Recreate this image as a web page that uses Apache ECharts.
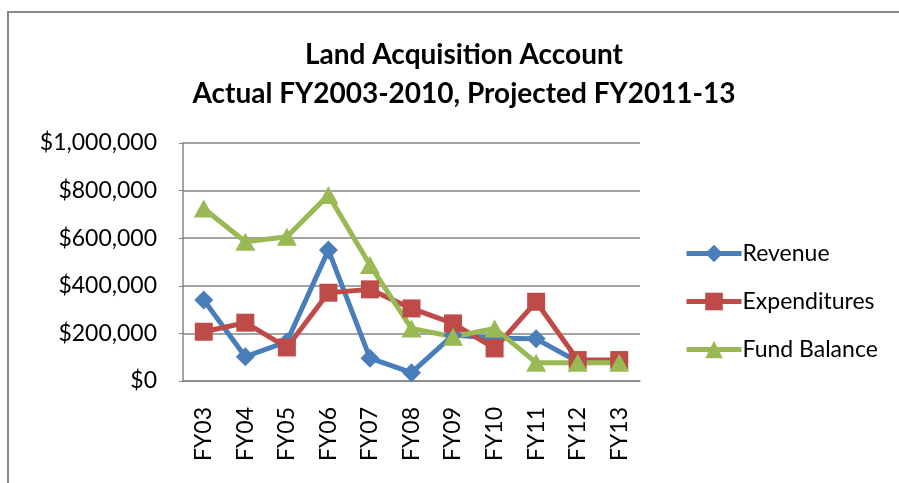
<!DOCTYPE html>
<html lang="en">
<head>
<meta charset="UTF-8">
<title>Land Acquisition Account</title>
<script src="https://cdn.jsdelivr.net/npm/echarts@6/dist/echarts.min.js"></script>
<style>
  html, body { margin: 0; padding: 0; background: #fff; }
</style>
</head>
<body>
    <div id="main" style="width: 899px;height:483px;"></div>
    <script type="text/javascript">
        // categories and values
        var years = ['FY03', 'FY04', 'FY05', 'FY06', 'FY07', 'FY08', 'FY09', 'FY10', 'FY11', 'FY12', 'FY13'];
        var revenue = [340000, 102000, 165000, 550000, 96000, 35000, 193000, 180000, 177000, 81000, 80000];
        var expenditures = [207000, 245000, 141000, 371000, 385000, 305000, 242000, 137000, 333000, 88000, 88000];
        var fundBalance = [725000, 585000, 606000, 781000, 487000, 221000, 186000, 221000, 77000, 77000, 77000];
        var yTicks = [0, 200000, 400000, 600000, 800000, 1000000];

        var font = 'Lato, "Open Sans", sans-serif';

        function money(v) {
            return '$' + v.toLocaleString('en-US');
        }

        function lineSeries(name, data, color, symbol, size) {
            return {
                name: name,
                type: 'line',
                data: data,
                symbol: symbol,
                symbolSize: size,
                showAllSymbol: true,
                lineStyle: { color: color, width: 5 },
                itemStyle: { color: color },
                emphasis: { disabled: true },
                animation: false
            };
        }

        var myChart = echarts.init(document.getElementById('main'));

        var option = {
            animation: false,
            backgroundColor: '#fff',
            title: {
                text: 'Land Acquisition Account\nActual FY2003-2010, Projected FY2011-13',
                left: 459,
                textAlign: 'center',
                top: 30,
                textStyle: {
                    fontFamily: font,
                    fontWeight: 'bold',
                    fontSize: 28,
                    lineHeight: 39,
                    color: '#000'
                }
            },
            legend: {
                orient: 'vertical',
                left: 679,
                top: 237,
                itemWidth: 55,
                itemHeight: 22,
                itemGap: 25,
                data: ['Revenue', 'Expenditures', 'Fund Balance'],
                lineStyle: { width: 5 },
                textStyle: { fontFamily: font, fontSize: 23, color: '#000', padding: [0, 0, 0, -4] }
            },
            grid: {
                left: 183,
                right: 259,
                top: 143,
                bottom: 102
            },
            xAxis: {
                type: 'category',
                data: years,
                boundaryGap: true,
                axisLine: { lineStyle: { color: '#868686', width: 1.5 } },
                axisTick: { show: false },
                axisLabel: {
                    rotate: 90,
                    margin: 26,
                    fontFamily: font,
                    fontSize: 23,
                    color: '#000'
                }
            },
            yAxis: {
                type: 'value',
                min: yTicks[0],
                max: yTicks[yTicks.length - 1],
                interval: yTicks[1] - yTicks[0],
                axisLine: { show: true, lineStyle: { color: '#868686', width: 1.5 } },
                axisTick: { show: true, length: 4, lineStyle: { color: '#868686' } },
                splitLine: { lineStyle: { color: '#868686', width: 1.5 } },
                axisLabel: {
                    margin: 26,
                    fontFamily: font,
                    fontSize: 23,
                    color: '#000',
                    formatter: money
                }
            },
            graphic: [{
                type: 'rect',
                shape: { x: 8, y: 12, width: 1000, height: 1000 },
                style: { fill: 'none', stroke: '#888', lineWidth: 2 },
                silent: true
            }],
            series: [
                lineSeries('Revenue', revenue, '#4a7ebb', 'diamond', 19),
                lineSeries('Expenditures', expenditures, '#be4b48', 'rect', 18),
                lineSeries('Fund Balance', fundBalance, '#98b954', 'triangle', [20, 18])
            ]
        };

        myChart.setOption(option);
    </script>
</body>
</html>
